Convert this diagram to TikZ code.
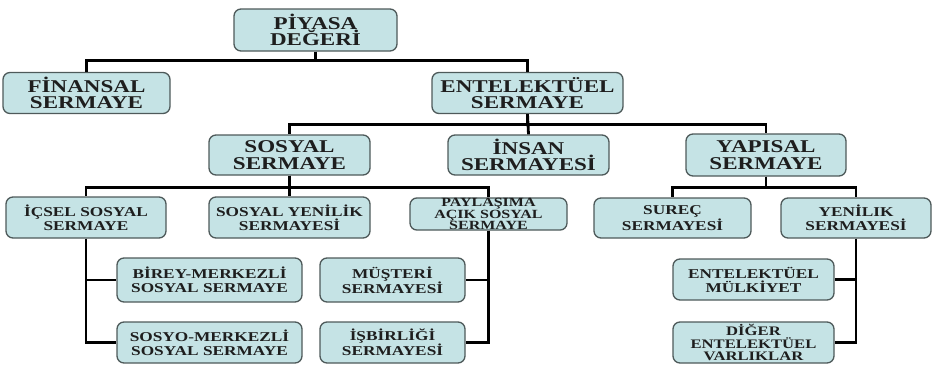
\documentclass[tikz,border=0pt]{standalone}
\usepackage{fontspec}
\newfontfamily\kutufont[FakeStretch=1.28]{Liberation Serif}
\definecolor{kutumavi}{RGB}{197,227,229}
\definecolor{kenar}{RGB}{78,90,90}
\definecolor{yazi}{RGB}{30,30,30}

\begin{document}
\begin{tikzpicture}[x=1pt,y=-1pt,
  kutu/.style={draw=kenar, line width=1.3pt, fill=kutumavi, rounded corners=7pt, align=center, inner sep=0pt, text=yazi},
  buyuk/.style={kutu, font=\kutufont\bfseries\fontsize{18}{16.5}\selectfont},
  kucuk/.style={kutu, font=\kutufont\bfseries\fontsize{13.5}{14}\selectfont},
  hat/.style={line width=2.8pt, black}]
\useasboundingbox (0,0) rectangle (932,367);

% ust seviye
\node[buyuk, minimum width=163, minimum height=42] (piyasa) at (315.5,30) {PİYASA\\DEĞERİ};
\node[buyuk, minimum width=167, minimum height=41] (finansal) at (86.5,93) {FİNANSAL\\SERMAYE};
\node[buyuk, minimum width=191, minimum height=41] (entel) at (527.5,93) {ENTELEKTÜEL\\SERMAYE};

% ikinci seviye
\node[buyuk, minimum width=161, minimum height=40] (sosyal) at (289.5,155) {SOSYAL\\SERMAYE};
\node[buyuk, minimum width=161, minimum height=40] (insan) at (528.5,155) {İNSAN\\SERMAYESİ};
\node[buyuk, minimum width=160, minimum height=42] (yapisal) at (766,155) {YAPISAL\\SERMAYE};

% sosyal sermaye alt kutulari
\node[kucuk, minimum width=160, minimum height=41] (icsel) at (86,217.5) {İÇSEL SOSYAL\\SERMAYE};
\node[kucuk, minimum width=161, minimum height=41] (yenilikSos) at (289.5,217.5) {SOSYAL YENİLİK\\SERMAYESİ};
\node[kucuk, minimum width=157, minimum height=32, font=\kutufont\bfseries\fontsize{12.5}{10.3}\selectfont] (paylasim) at (488.5,214) {PAYLAŞIMA\\AÇIK SOSYAL\\SERMAYE};

% yapisal sermaye alt kutulari
\node[kucuk, minimum width=157, minimum height=40] (surec) at (672.5,218) {SUREÇ\\SERMAYESİ};
\node[kucuk, minimum width=150, minimum height=40] (yenilik) at (856,218) {YENİLIK\\SERMAYESİ};

% en alt seviye
\node[kucuk, minimum width=185, minimum height=44] (birey) at (209.5,280) {BİREY-MERKEZLİ\\SOSYAL SERMAYE};
\node[kucuk, minimum width=185, minimum height=41] (sosyo) at (209.5,342.5) {SOSYO-MERKEZLİ\\SOSYAL SERMAYE};
\node[kucuk, minimum width=145, minimum height=44] (musteri) at (392.5,280) {MÜŞTERİ\\SERMAYESİ};
\node[kucuk, minimum width=145, minimum height=41] (isbirligi) at (392.5,342.5) {İŞBİRLİĞİ\\SERMAYESİ};
\node[kucuk, minimum width=161, minimum height=41] (mulkiyet) at (753.5,279.5) {ENTELEKTÜEL\\MÜLKİYET};
\node[kucuk, minimum width=161, minimum height=41, font=\kutufont\bfseries\fontsize{13}{12.5}\selectfont] (diger) at (753.5,342.5) {DİĞER\\ENTELEKTÜEL\\VARLIKLAR};

% baglantilar
\draw[hat] (piyasa.south) -- ++(0,9) -| (finansal.north);
\draw[hat] (piyasa.south) -- ++(0,9) -| (entel.north);
\draw[hat] (entel.south) -- ++(0,10) -| (sosyal.north);
\draw[hat] (entel.south) -- (insan.north);
\draw[hat] (entel.south) -- ++(0,10) -| (yapisal.north);
\draw[hat] (sosyal.south) -- ++(0,12) -| (icsel.north);
\draw[hat] (sosyal.south) -- (yenilikSos.north);
\draw[hat] (sosyal.south) -- ++(0,12) -| (paylasim.north);
\draw[hat] (yapisal.south) -- ++(0,11) -| (surec.north);
\draw[hat] (yapisal.south) -- ++(0,11) -| (yenilik.north);
\draw[hat] (icsel.south) |- (birey.west);
\draw[hat] (icsel.south) |- (sosyo.west);
\draw[hat] (paylasim.south) |- (musteri.east);
\draw[hat] (paylasim.south) |- (isbirligi.east);
\draw[hat] (yenilik.south) |- (mulkiyet.east);
\draw[hat] (yenilik.south) |- (diger.east);
\end{tikzpicture}
\end{document}
